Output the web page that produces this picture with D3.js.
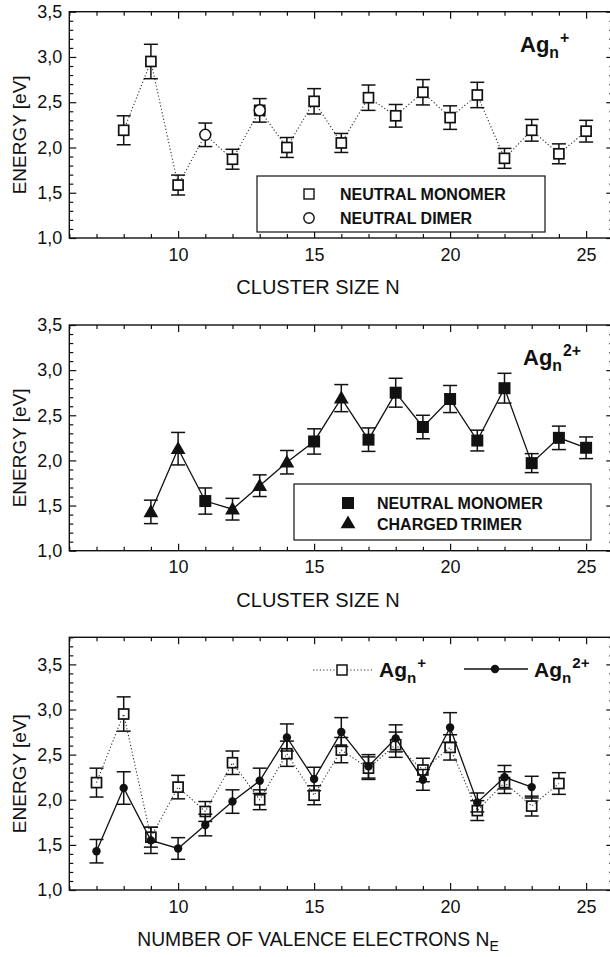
<!DOCTYPE html>
<html>
<head>
<meta charset="utf-8">
<script src="https://cdn.jsdelivr.net/npm/d3@7"></script>
<style>
body { margin: 0; background: #fff; }
svg { display: block; font-family: "Liberation Sans", Arial, Helvetica, sans-serif; }
</style>
</head>
<body>
<svg id="fig" width="610" height="957"></svg>
<script>
/* Ag_n+ : taille N, énergie [eV], barre d'erreur */
var nPlus   = [8, 9, 10, 11, 12, 13, 14, 15, 16, 17, 18, 19, 20, 21, 22, 23, 24, 25];
var ePlus   = [2.19, 2.95, 1.585, 2.14, 1.87, 2.41, 2.00, 2.51, 2.05, 2.55, 2.35, 2.61, 2.33, 2.58, 1.88, 2.19, 1.93, 2.18];
var errPlus = [0.16, 0.19, 0.11, 0.13, 0.11, 0.13, 0.11, 0.14, 0.105, 0.14, 0.125, 0.14, 0.13, 0.14, 0.11, 0.12, 0.11, 0.12];
var monoPlus  = [8, 9, 10, 12, 13, 14, 15, 16, 17, 18, 19, 20, 21, 22, 23, 24, 25]; // neutral monomer
var dimerPlus = [11, 13];                                                          // neutral dimer

/* Ag_n2+ */
var nTwo   = [9, 10, 11, 12, 13, 14, 15, 16, 17, 18, 19, 20, 21, 22, 23, 24, 25];
var eTwo   = [1.43, 2.13, 1.55, 1.46, 1.72, 1.98, 2.21, 2.69, 2.23, 2.75, 2.37, 2.68, 2.22, 2.80, 1.97, 2.25, 2.14];
var errTwo = [0.13, 0.18, 0.145, 0.12, 0.12, 0.13, 0.14, 0.15, 0.13, 0.16, 0.13, 0.15, 0.115, 0.165, 0.105, 0.13, 0.12];
var monoTwo   = [11, 15, 17, 18, 19, 20, 21, 22, 23, 24, 25]; // neutral monomer
var trimerTwo = [9, 10, 12, 13, 14, 16];                       // charged trimer

var xMajor = [10, 15, 20, 25];
var yMajor = [1.0, 1.5, 2.0, 2.5, 3.0, 3.5];

var svg = d3.select("#fig");
var ink = "#111";
var fmt = function (v) { return d3.format(".1f")(v).replace(".", ","); };

var x = d3.scaleLinear().domain([6, 26]).range([69.3, 613.3]);

/* construit un cadre avec axes, renvoie l'échelle y */
function panel(top, bottom, yMax, xTitle, sub) {
    var y = d3.scaleLinear().domain([1, yMax]).range([bottom, top]);
    var g = svg.append("g");
    var yMinor = d3.range(10, Math.round(yMax * 10) + 1).map(function (v) { return v / 10; })
        .filter(function (v) { return Math.round(v * 10) % 5 != 0; });
    var xMinor = d3.range(6, 27).filter(function (v) { return v % 5 != 0; });

    var axes = [
        [d3.axisLeft(y).tickValues(yMajor).tickSize(-7).tickPadding(7).tickFormat(fmt), x(6), 0],
        [d3.axisLeft(y).tickValues(yMinor).tickSize(-4).tickFormat(""), x(6), 0],
        [d3.axisRight(y).tickValues(yMajor).tickSize(-7).tickFormat(""), x(26), 0],
        [d3.axisRight(y).tickValues(yMinor).tickSize(-4).tickFormat(""), x(26), 0],
        [d3.axisBottom(x).tickValues(xMajor).tickSize(-7).tickPadding(10), 0, bottom],
        [d3.axisBottom(x).tickValues(xMinor).tickSize(-4).tickFormat(""), 0, bottom],
        [d3.axisTop(x).tickValues(xMajor).tickSize(-7).tickFormat(""), 0, top],
        [d3.axisTop(x).tickValues(xMinor).tickSize(-4).tickFormat(""), 0, top]
    ];
    axes.forEach(function (a) {
        var ax = g.append("g").attr("transform", "translate(" + a[1] + "," + a[2] + ")").call(a[0]);
        ax.select(".domain").remove();
        ax.selectAll("line").attr("stroke", ink).attr("stroke-width", 1.2);
        ax.selectAll("text").attr("fill", ink).attr("font-size", 18)
            .style("font-family", "'Liberation Sans', Arial, sans-serif");
    });

    g.append("rect")
        .attr("x", x(6)).attr("y", top)
        .attr("width", x(26) - x(6)).attr("height", bottom - top)
        .attr("fill", "none").attr("stroke", ink).attr("stroke-width", 1.4);

    /* titre axe y */
    g.append("text")
        .attr("transform", "translate(19," + ((top + bottom) / 2 + 10) + ") rotate(-90)")
        .attr("text-anchor", "middle").attr("dy", "0.35em")
        .attr("font-size", 19).attr("fill", ink)
        .text("ENERGY [eV]");

    /* titre axe x */
    var t = g.append("text")
        .attr("x", 318).attr("y", bottom + 56)
        .attr("text-anchor", "middle")
        .attr("font-size", sub ? 19.3 : 20).attr("fill", ink)
        .text(xTitle);
    if (sub) {
        t.append("tspan").attr("font-size", 14).attr("dy", 5).text(sub);
    }
    return y;
}

function errorBars(y, xs, es, errs) {
    var g = svg.append("g").attr("stroke", ink).attr("stroke-width", 1.5);
    xs.forEach(function (n, i) {
        var cx = x(n), y1 = y(es[i] + errs[i]), y2 = y(es[i] - errs[i]);
        g.append("line").attr("x1", cx).attr("x2", cx).attr("y1", y1).attr("y2", y2);
        g.append("line").attr("x1", cx - 7).attr("x2", cx + 7).attr("y1", y1).attr("y2", y1);
        g.append("line").attr("x1", cx - 7).attr("x2", cx + 7).attr("y1", y2).attr("y2", y2);
    });
}

function curve(y, xs, es, dotted) {
    var line = d3.line().x(function (d) { return x(d[0]); }).y(function (d) { return y(d[1]); });
    svg.append("path")
        .datum(xs.map(function (n, i) { return [n, es[i]]; }))
        .attr("d", line)
        .attr("fill", "none")
        .attr("stroke", dotted ? "#333" : ink)
        .attr("stroke-width", dotted ? 1.1 : 1.3)
        .attr("stroke-dasharray", dotted ? "1.2,2.2" : null);
}

function squares(cx, cy, s, fill, sw) {
    svg.append("rect").attr("x", cx - s / 2).attr("y", cy - s / 2)
        .attr("width", s).attr("height", s)
        .attr("fill", fill).attr("stroke", ink).attr("stroke-width", sw);
}
function circle(cx, cy, r, fill, sw) {
    svg.append("circle").attr("cx", cx).attr("cy", cy).attr("r", r)
        .attr("fill", fill).attr("stroke", ink).attr("stroke-width", sw);
}
function triangle(cx, cy) {
    svg.append("path")
        .attr("transform", "translate(" + cx + "," + (cy + 1) + ")")
        .attr("d", d3.symbol().type(d3.symbolTriangle).size(95)())
        .attr("fill", ink);
}
function valueOf(xs, es, n) { return es[xs.indexOf(n)]; }

/* étiquette Ag_n^q */
function agLabel(xp, yp, size, charge) {
    var t = svg.append("text").attr("x", xp).attr("y", yp)
        .attr("font-size", size).attr("font-weight", "bold").attr("fill", ink).text("Ag");
    t.append("tspan").attr("font-size", size * 0.72).attr("dy", size * 0.28).text("n");
    t.append("tspan").attr("font-size", size * 0.72).attr("dy", -size * 0.7).attr("dx", 1).text(charge);
}

/* ===== panneau 1 : Ag_n+ ===== */
var y1 = panel(11.7, 238, 3.5, "CLUSTER SIZE N");
curve(y1, nPlus, ePlus, true);
errorBars(y1, nPlus, ePlus, errPlus);
monoPlus.forEach(function (n) { squares(x(n), y1(valueOf(nPlus, ePlus, n)), 10, "#fff", 1.7); });
dimerPlus.forEach(function (n) { circle(x(n), y1(valueOf(nPlus, ePlus, n)), 5.5, "#fff", 1.5); });
agLabel(520, 52, 22, "+");

svg.append("rect").attr("x", 257).attr("y", 176).attr("width", 288).attr("height", 56)
    .attr("fill", "#fff").attr("stroke", ink).attr("stroke-width", 1.2);
squares(309, 194, 10, "#fff", 1.4);
circle(309, 218, 5.2, "#fff", 1.4);
svg.append("text").attr("x", 340).attr("y", 200).attr("font-size", 16).attr("font-weight", "bold")
    .attr("fill", ink).text("NEUTRAL MONOMER");
svg.append("text").attr("x", 340).attr("y", 224).attr("font-size", 16).attr("font-weight", "bold")
    .attr("fill", ink).text("NEUTRAL DIMER");

/* ===== panneau 2 : Ag_n2+ ===== */
var y2 = panel(325, 550.7, 3.5, "CLUSTER SIZE N");
errorBars(y2, nTwo, eTwo, errTwo);
curve(y2, nTwo, eTwo, false);
monoTwo.forEach(function (n) { squares(x(n), y2(valueOf(nTwo, eTwo, n)), 12, ink, 0); });
trimerTwo.forEach(function (n) { triangle(x(n), y2(valueOf(nTwo, eTwo, n))); });
agLabel(523, 365, 22, "2+");

svg.append("rect").attr("x", 294).attr("y", 484).attr("width", 297).attr("height", 56)
    .attr("fill", "#fff").attr("stroke", ink).attr("stroke-width", 1.2);
squares(348, 503, 12, ink, 0);
triangle(348, 523);
svg.append("text").attr("x", 377).attr("y", 509).attr("font-size", 16).attr("font-weight", "bold")
    .attr("fill", ink).text("NEUTRAL MONOMER");
svg.append("text").attr("x", 377).attr("y", 530).attr("font-size", 16).attr("font-weight", "bold")
    .attr("fill", ink).attr("word-spacing", -1.5).text("CHARGED TRIMER");

/* ===== panneau 3 : nombre d'électrons de valence N_E = N - q ===== */
var y3 = panel(637.3, 890, 3.8, "NUMBER OF VALENCE ELECTRONS N", "E");
var nePlus = nPlus.map(function (n) { return n - 1; });
var neTwo = nTwo.map(function (n) { return n - 2; });

errorBars(y3, nePlus, ePlus, errPlus);
nePlus.forEach(function (n, i) { squares(x(n), y3(ePlus[i]), 10, "#fff", 1.7); });
curve(y3, nePlus, ePlus, true);
errorBars(y3, neTwo, eTwo, errTwo);
curve(y3, neTwo, eTwo, false);
neTwo.forEach(function (n, i) { circle(x(n), y3(eTwo[i]), 4.2, ink, 0); });

/* légende panneau 3 */
svg.append("line").attr("x1", 313).attr("x2", 372).attr("y1", 670).attr("y2", 670)
    .attr("stroke", "#333").attr("stroke-width", 1.1).attr("stroke-dasharray", "1.2,2.2");
squares(342, 670, 10, "#fff", 1.5);
agLabel(379, 677, 21, "+");
svg.append("line").attr("x1", 464).attr("x2", 528).attr("y1", 669).attr("y2", 669)
    .attr("stroke", ink).attr("stroke-width", 1.3);
circle(495, 669, 4.2, ink, 0);
agLabel(534, 677, 21, "2+");
</script>
</body>
</html>
